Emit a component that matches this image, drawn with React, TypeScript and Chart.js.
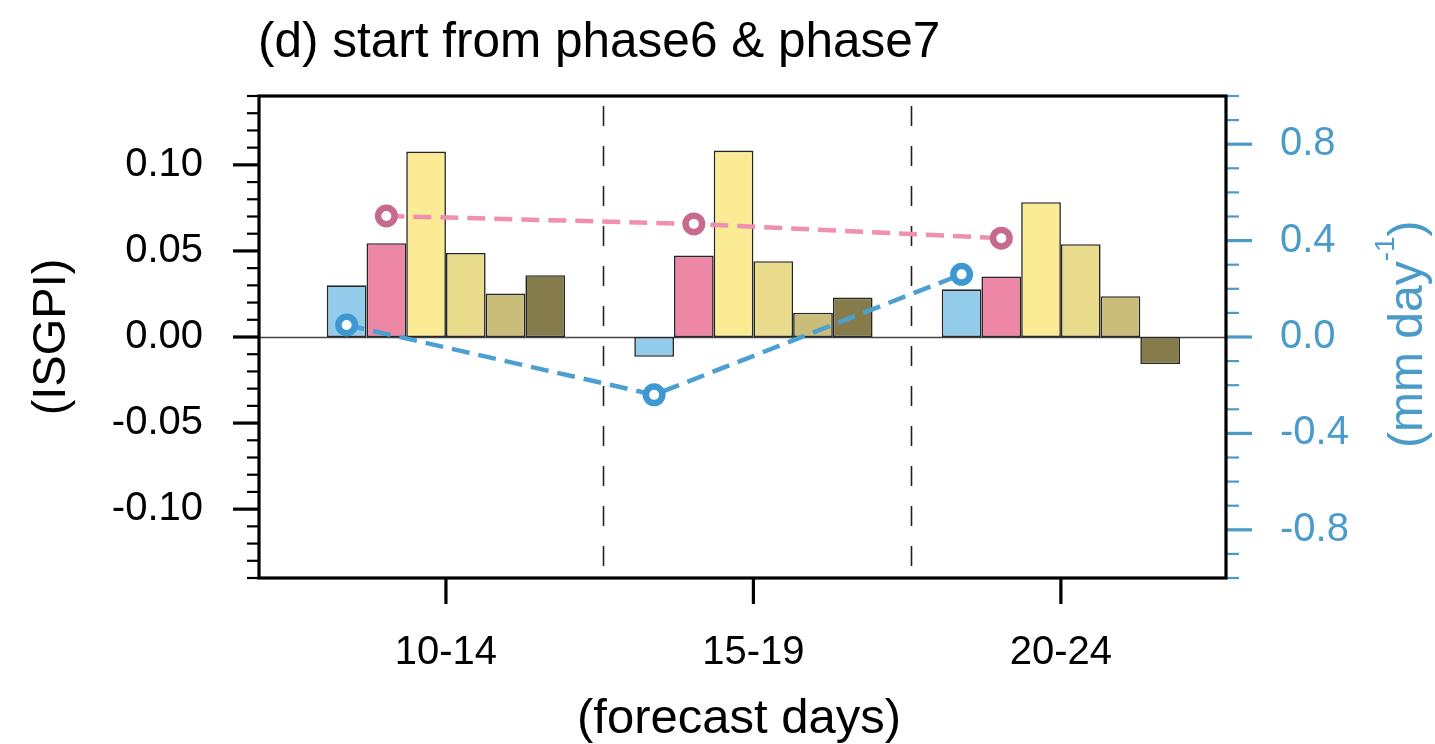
import React, { useEffect, useRef } from 'react';
import { Chart, registerables } from 'chart.js';

Chart.register(...registerables);

// ---------- data ----------
const categories = ['10-14', '15-19', '20-24'];
const categoryPositions = [1, 2, 3];

const barNames = ['term1', 'term2', 'term3', 'term4', 'term5', 'term6'];
const barBlue = [0.030, -0.0115, 0.0277];
const barPink = [0.0545, 0.0473, 0.0351];
const barYellow = [0.1077, 0.1083, 0.0783];
const barKhaki = [0.0488, 0.044, 0.0539];
const barOlive = [0.0252, 0.0141, 0.0237];
const barDarkOlive = [0.0359, 0.0229, -0.0157];

const linePinkISGPI = [0.0703, 0.0657, 0.0574]; // left axis
const lineBlueRain = [0.05, -0.24, 0.26]; // right axis (mm day-1)

const leftMajorTicks = [-0.1, -0.05, 0, 0.05, 0.1];
const rightMajorTicks = [-0.8, -0.4, 0, 0.4, 0.8];
const separators = [1.512, 2.514];

// ---------- style ----------
const FONT = '"Liberation Sans", Arial, Helvetica, sans-serif';
const AXIS_BLUE = '#4b9bca';
const barColors = ['#93cbea', '#ee86a5', '#fbeb95', '#e9dc8c', '#c9bd79', '#867c4b'];
const CAT_PCT = 0.775;
const N_BARS = 6;
const barOffset = (k: number) => ((k + 0.5 - N_BARS / 2) * CAT_PCT) / N_BARS;

const decorPlugin = {
  id: 'decor',
  beforeDatasetsDraw(chart: any) {
    const { ctx, chartArea: a, scales } = chart;
    const x = scales.x;
    const y = scales.y;
    ctx.save();
    const y0 = Math.round(y.getPixelForValue(0)) + 0.5;
    ctx.strokeStyle = '#444';
    ctx.lineWidth = 1.3;
    ctx.beginPath();
    ctx.moveTo(a.left, y0);
    ctx.lineTo(a.right, y0);
    ctx.stroke();

    ctx.strokeStyle = '#222';
    ctx.lineWidth = 1.6;
    ctx.setLineDash([20, 20]);
    separators.forEach((v) => {
      const px = Math.round(x.getPixelForValue(v)) + 0.5;
      ctx.beginPath();
      ctx.moveTo(px, a.top + 10);
      ctx.lineTo(px, a.bottom);
      ctx.stroke();
    });
    ctx.restore();
  },
  afterDraw(chart: any) {
    const { ctx, chartArea: a, scales } = chart;
    const x = scales.x;
    const y = scales.y;
    const y2 = scales.y2;
    ctx.save();
    ctx.setLineDash([]);
    ctx.lineCap = 'butt';

    // left ticks
    ctx.strokeStyle = '#000';
    for (let i = -14; i <= 14; i++) {
      const major = i % 5 === 0;
      const py = y.getPixelForValue(i / 100);
      ctx.lineWidth = major ? 3.2 : 2.2;
      ctx.beginPath();
      ctx.moveTo(a.left - (major ? 26 : 12), py);
      ctx.lineTo(a.left, py);
      ctx.stroke();
    }
    // bottom ticks
    categoryPositions.forEach((v) => {
      const px = x.getPixelForValue(v);
      ctx.lineWidth = 3.2;
      ctx.beginPath();
      ctx.moveTo(px, a.bottom);
      ctx.lineTo(px, a.bottom + 26);
      ctx.stroke();
    });
    // right ticks
    ctx.strokeStyle = AXIS_BLUE;
    for (let i = -10; i <= 10; i++) {
      const major = i % 4 === 0;
      const py = y2.getPixelForValue(i / 10);
      ctx.lineWidth = major ? 3.2 : 2.2;
      ctx.beginPath();
      ctx.moveTo(a.right, py);
      ctx.lineTo(a.right + (major ? 26 : 13), py);
      ctx.stroke();
    }
    // frame
    ctx.strokeStyle = '#000';
    ctx.lineWidth = 3.2;
    ctx.strokeRect(a.left, a.top, a.right - a.left, a.bottom - a.top);

    // titles
    ctx.fillStyle = '#000';
    ctx.textBaseline = 'alphabetic';
    ctx.textAlign = 'left';
    ctx.font = `49.5px ${FONT}`;
    ctx.fillText('(d) start from phase6 & phase7', 258, 57);

    ctx.textAlign = 'center';
    ctx.font = `49px ${FONT}`;
    ctx.fillText('(forecast days)', 739, 733);

    ctx.save();
    ctx.translate(65, 337);
    ctx.rotate(-Math.PI / 2);
    ctx.font = `47px ${FONT}`;
    ctx.textAlign = 'center';
    ctx.fillText('(ISGPI)', 0, 0);
    ctx.restore();

    // right title with superscript
    ctx.save();
    ctx.fillStyle = AXIS_BLUE;
    ctx.translate(1422, 448);
    ctx.rotate(-Math.PI / 2);
    ctx.textAlign = 'left';
    ctx.font = `48px ${FONT}`;
    const main = '(mm day';
    ctx.fillText(main, 0, 0);
    let w = ctx.measureText(main).width;
    ctx.font = `28px ${FONT}`;
    ctx.fillText('-1', w, -28);
    w += ctx.measureText('-1').width;
    ctx.font = `48px ${FONT}`;
    ctx.fillText(')', w, 0);
    ctx.restore();

    ctx.restore();
  },
};

export default function App() {
  const canvasRef = useRef<HTMLCanvasElement | null>(null);

  useEffect(() => {
    document.body.style.margin = '0';
    document.body.style.overflow = 'hidden';
    const canvas = canvasRef.current;
    if (!canvas) return;

    const barDatasets = [barBlue, barPink, barYellow, barKhaki, barOlive, barDarkOlive].map((vals, k) => ({
      type: 'bar' as const,
      label: barNames[k],
      data: vals.map((v, i) => ({ x: categoryPositions[i], y: v })),
      backgroundColor: barColors[k],
      borderColor: '#262626',
      borderWidth: 1.6,
      borderSkipped: false,
      yAxisID: 'y',
      order: 1,
      categoryPercentage: CAT_PCT,
      barPercentage: 1,
    }));

    const lineDatasets = [
      {
        type: 'line' as const,
        label: 'ISGPI',
        data: linePinkISGPI.map((v, i) => ({ x: categoryPositions[i] + barOffset(1), y: v })),
        borderColor: '#ef8fb2',
        borderWidth: 4.5,
        borderDash: [18, 9],
        pointRadius: 8.25,
        pointBorderWidth: 6.5,
        pointBackgroundColor: '#ffffff',
        pointBorderColor: '#c76b8e',
        yAxisID: 'y',
        order: 0,
        tension: 0,
      },
      {
        type: 'line' as const,
        label: 'rain',
        data: lineBlueRain.map((v, i) => ({ x: categoryPositions[i] + barOffset(0), y: v })),
        borderColor: '#4ba0d1',
        borderWidth: 4.5,
        borderDash: [18, 9],
        pointRadius: 8.25,
        pointBorderWidth: 6.5,
        pointBackgroundColor: '#ffffff',
        pointBorderColor: '#3d98d2',
        yAxisID: 'y2',
        order: 0,
        tension: 0,
      },
    ];

    const chart = new Chart(canvas, {
      type: 'bar',
      data: { datasets: [...lineDatasets, ...barDatasets] as any },
      options: {
        responsive: false,
        animation: false,
        devicePixelRatio: 1,
        layout: { padding: { top: 96, left: 0, right: 0, bottom: 0 } },
        plugins: { legend: { display: false }, tooltip: { enabled: false }, title: { display: false } },
        scales: {
          x: {
            type: 'linear',
            offset: false,
            min: 0.392,
            max: 3.537,
            afterBuildTicks: (s: any) => {
              s.ticks = categoryPositions.map((v) => ({ value: v }));
            },
            afterFit: (s: any) => {
              s.height = 166;
            },
            ticks: {
              autoSkip: false,
              maxRotation: 0,
              padding: 51,
              color: '#000',
              font: { family: FONT, size: 40 },
              callback: (v: any) => {
                const idx = categoryPositions.indexOf(Number(v));
                return idx >= 0 ? categories[idx] : '';
              },
            },
            grid: { display: false, drawTicks: false },
            border: { display: false },
          },
          y: {
            type: 'linear',
            position: 'left',
            min: -0.14,
            max: 0.14,
            afterBuildTicks: (s: any) => {
              s.ticks = leftMajorTicks.map((v) => ({ value: v }));
            },
            afterFit: (s: any) => {
              s.width = 259;
            },
            ticks: {
              padding: 56,
              color: '#000',
              font: { family: FONT, size: 40 },
              callback: (v: any) => Number(v).toFixed(2),
            },
            grid: { display: false, drawTicks: false },
            border: { display: false },
          },
          y2: {
            type: 'linear',
            position: 'right',
            min: -1,
            max: 1,
            afterBuildTicks: (s: any) => {
              s.ticks = rightMajorTicks.map((v) => ({ value: v }));
            },
            afterFit: (s: any) => {
              s.width = 209;
            },
            ticks: {
              padding: 54,
              color: AXIS_BLUE,
              font: { family: FONT, size: 40 },
              callback: (v: any) => Number(v).toFixed(1),
            },
            grid: { display: false, drawTicks: false },
            border: { display: false },
          },
        },
      } as any,
      plugins: [decorPlugin],
    });

    return () => {
      chart.destroy();
    };
  }, []);

  return (
    <div style={{ width: 1435, height: 744, background: '#fff' }}>
      <canvas ref={canvasRef} width={1435} height={744} style={{ display: 'block' }} />
    </div>
  );
}
